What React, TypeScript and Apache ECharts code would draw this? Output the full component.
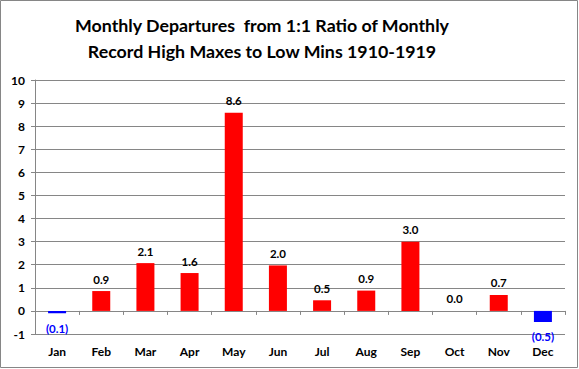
import React, { useEffect, useRef } from "react";
import * as echarts from "echarts";

const months = ["Jan", "Feb", "Mar", "Apr", "May", "Jun", "Jul", "Aug", "Sep", "Oct", "Nov", "Dec"];
const departures = [-0.1, 0.86, 2.07, 1.64, 8.58, 1.97, 0.46, 0.88, 3.0, 0.0, 0.69, -0.48];
const yTicks = { min: -1, max: 10, interval: 1 };
const titleLines = ["Monthly Departures  from 1:1 Ratio of Monthly", "Record High Maxes to Low Mins 1910-1919"];

const FONT = "Lato, 'Open Sans', sans-serif";

export default function App() {
  const ref = useRef<HTMLDivElement>(null);
  useEffect(() => {
    if (!ref.current) return;
    const chart = echarts.init(ref.current, null, { renderer: "svg" });
    const data = departures.map((v) => {
      const neg = v < 0;
      return {
        value: v,
        itemStyle: { color: neg ? "#0000FF" : "#FF0000" },
        label: {
          position: neg ? "bottom" : "top",
          distance: neg ? 9 : 6,
          color: neg ? "#0000FF" : "#000000",
        },
      };
    });
    const titleStyle = {
      fontFamily: FONT,
      fontWeight: "bold",
      fontSize: 17.8,
      fill: "#000",
      align: "center",
      verticalAlign: "middle",
    };
    chart.setOption({
      animation: false,
      backgroundColor: "#ffffff",
      graphic: [
        {
          type: "rect",
          shape: { x: 0.5, y: 0.5, width: 577, height: 367 },
          style: { fill: "none", stroke: "#868686", lineWidth: 1 },
          silent: true,
        },
        {
          type: "text",
          x: 262,
          y: 25,
          style: { ...titleStyle, text: titleLines[0] },
          silent: true,
        },
        {
          type: "text",
          x: 262,
          y: 51,
          style: { ...titleStyle, text: titleLines[1] },
          silent: true,
        },
      ],
      grid: { left: 35, right: 14, top: 80, bottom: 35 },
      xAxis: [
        {
          type: "category",
          data: months,
          position: "bottom",
          axisLine: { onZero: true, lineStyle: { color: "#868686" } },
          axisTick: { show: true, length: 4, lineStyle: { color: "#868686" } },
          axisLabel: { show: false },
        },
        {
          type: "category",
          data: months,
          position: "bottom",
          axisLine: { show: false, onZero: false },
          axisTick: { show: false },
          axisLabel: { margin: 11, fontFamily: FONT, fontWeight: "bold", fontSize: 12, color: "#000" },
        },
      ],
      yAxis: {
        type: "value",
        min: yTicks.min,
        max: yTicks.max,
        interval: yTicks.interval,
        axisLine: { show: true, lineStyle: { color: "#868686" } },
        axisTick: { show: true, length: 4, lineStyle: { color: "#868686" } },
        axisLabel: { margin: 10, fontFamily: FONT, fontWeight: "bold", fontSize: 12, color: "#000" },
        splitLine: { show: true, lineStyle: { color: "#868686", width: 1 } },
      },
      series: [
        {
          type: "bar",
          xAxisIndex: 0,
          data,
          barWidth: 18,
          label: {
            show: true,
            fontFamily: FONT,
            fontWeight: "bold",
            fontSize: 11.5,
            formatter: (p: any) => {
              const v = p.value as number;
              const s = Math.abs(v).toFixed(1);
              return v < 0 ? `(${s})` : s;
            },
          },
        },
      ],
    });
    return () => chart.dispose();
  }, []);
  return (
    <div
      ref={ref}
      style={{ position: "fixed", left: 0, top: 0, width: 579, height: 369 }}
    />
  );
}
